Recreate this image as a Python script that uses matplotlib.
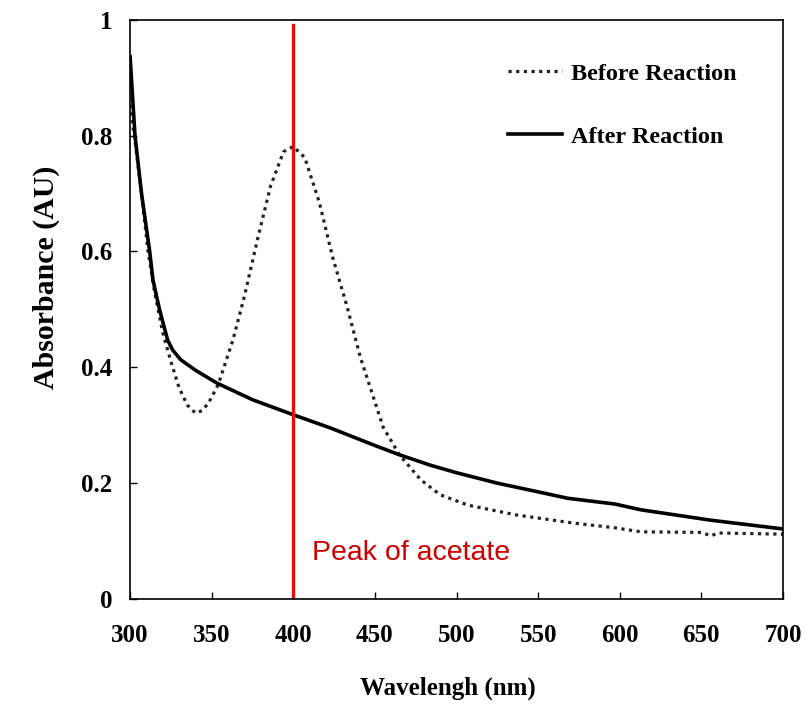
import matplotlib
matplotlib.use('Agg')
import matplotlib.pyplot as plt

# absorbance spectra
wl_before = [300, 303, 307, 311, 315, 320, 325, 330, 335, 340, 344, 348, 354, 363, 370,
             378, 386, 394, 400, 407, 416, 424, 433, 441, 449, 455, 465, 478, 490, 507,
             537, 572, 597, 613, 650, 656, 660, 700]
abs_before = [0.853, 0.79, 0.70, 0.60, 0.53, 0.46, 0.41, 0.365, 0.335, 0.321, 0.325, 0.338, 0.37, 0.447, 0.522,
              0.62, 0.712, 0.772, 0.781, 0.762, 0.684, 0.591, 0.504, 0.418, 0.349, 0.297, 0.249, 0.206, 0.18, 0.162,
              0.145, 0.131, 0.123, 0.116, 0.115, 0.109, 0.114, 0.112]

wl_after = [300, 303, 307, 312, 314, 318, 323, 326, 331, 340, 353, 375, 400, 423, 450,
            465, 484, 500, 525, 550, 568, 597, 613, 656, 700]
abs_after = [0.936, 0.80, 0.70, 0.60, 0.551, 0.50, 0.447, 0.43, 0.413, 0.395, 0.373, 0.344, 0.318, 0.295, 0.265,
             0.249, 0.231, 0.218, 0.20, 0.185, 0.174, 0.164, 0.154, 0.136, 0.121]

peak_wl = 400
peak_label = 'Peak of acetate'

x_ticks = [300, 350, 400, 450, 500, 550, 600, 650, 700]
y_ticks = [0, 0.2, 0.4, 0.6, 0.8, 1]
y_tick_labels = ['0', '0.2', '0.4', '0.6', '0.8', '1']

serif = 'Liberation Serif'

fig = plt.figure(figsize=(8.08, 7.27), dpi=100)
ax = fig.add_axes([0.161, 0.176, 0.808, 0.797])

ax.plot(wl_before, abs_before, color='#222222', lw=2.3, linestyle=(0, (1, 1.4)),
        label='Before Reaction')
ax.plot(wl_after, abs_after, color='black', lw=2.6, label='After Reaction')

ax.plot([peak_wl, peak_wl], [0, 0.99], color='#E01010', lw=2.4)
ax.text(411.5, 0.079, peak_label, color='#CC0000', fontsize=20.5,
        family='Liberation Sans', va='center', ha='left')

ax.set_xlim(300, 700)
ax.set_ylim(0, 1)
ax.set_xticks(x_ticks)
ax.set_yticks(y_ticks)
ax.set_yticklabels(y_tick_labels)
ax.tick_params(direction='in', length=5, width=1)
ax.tick_params(axis='x', pad=18)
ax.tick_params(axis='y', pad=13)
for lab in ax.get_xticklabels() + ax.get_yticklabels():
    lab.set_fontfamily(serif)
    lab.set_fontweight('bold')
    lab.set_fontsize(18)
for sp in ax.spines.values():
    sp.set_linewidth(1.2)

ax.set_xlabel('Wavelengh (nm)', family=serif, fontweight='bold', fontsize=18)
ax.set_ylabel('Absorbance (AU)', family=serif, fontweight='bold', fontsize=21.5)
ax.xaxis.set_label_coords(0.487, -0.134)
ax.xaxis.label.set_va('top')
ax.yaxis.set_label_coords(-0.108, 0.556)

leg = ax.legend(loc='upper left', bbox_to_anchor=(0.579, 0.926), frameon=False,
                borderpad=0, borderaxespad=0, handlelength=2.2, handletextpad=0.4,
                labelspacing=1.7, prop={'family': serif, 'weight': 'bold', 'size': 17.5})

plt.savefig('out.png', dpi=100)
plt.close()
